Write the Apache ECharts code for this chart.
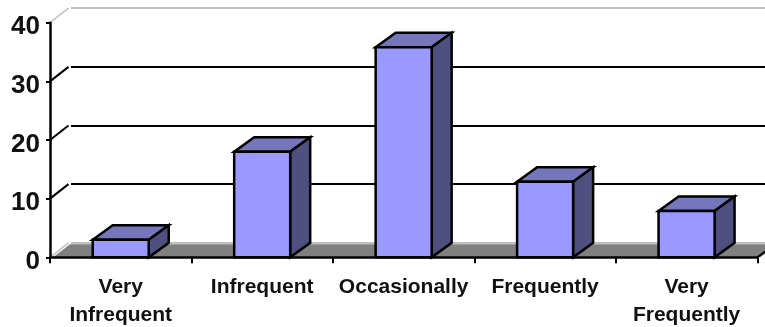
<!DOCTYPE html>
<html><head><meta charset="utf-8">
<style>html,body{margin:0;padding:0;background:#fff}#c{width:765px;height:327px}</style>
<script src="https://cdn.jsdelivr.net/npm/echarts@6/dist/echarts.min.js"></script>
</head><body><div id="c"></div>
<script>
var categories = ['Very\nInfrequent', 'Infrequent', 'Occasionally', 'Frequently', 'Very\nFrequently'];
var values = [3, 18, 35.8, 12.9, 7.9];
var yTicks = [0, 10, 20, 30, 40];
var DX = 20, DY = 14.5, FONT = '"Liberation Sans", Arial, sans-serif';

var chart = echarts.init(document.getElementById('c'), null, {renderer: 'canvas'});
function poly(pts, fill, z) {
  return {type: 'polygon', z2: z || 1, shape: {points: pts},
    style: {fill: fill, stroke: '#000', lineWidth: 2.5, lineJoin: 'miter'}};
}
chart.setOption({
  animation: false,
  backgroundColor: '#fff',
  grid: [
    {left: 50, right: 7.7, top: 22.7, bottom: 69.7, outerBoundsMode: 'none'},
    {left: 71, right: -20, top: 8.2, bottom: 84.2, outerBoundsMode: 'none'}
  ],
  xAxis: [
    {type: 'category', gridIndex: 0, data: categories,
      axisLine: {show: true, onZero: false, lineStyle: {color: '#000', width: 2.5}},
      axisTick: {show: true, alignWithLabel: false, length: 6, lineStyle: {color: '#000', width: 2}},
      axisLabel: {color: '#111', fontFamily: FONT, fontWeight: 'bold', fontSize: 21, lineHeight: 28, margin: 16, interval: 0},
      splitLine: {show: false}, z: 5},
    {type: 'category', gridIndex: 1, data: categories, show: false}
  ],
  yAxis: [
    {type: 'value', gridIndex: 0, min: 0, max: 40, interval: 10,
      axisLine: {show: true, lineStyle: {color: '#000', width: 2.5}},
      axisTick: {show: true, length: 4, lineStyle: {color: '#000', width: 2}},
      axisLabel: {color: '#111', fontFamily: FONT, fontWeight: 'bold', fontSize: 26, margin: 10, verticalAlign: 'top', lineHeight: 9},
      splitLine: {show: false}, z: 5},
    {type: 'value', gridIndex: 1, min: 0, max: 40, interval: 10,
      axisLine: {show: false}, axisTick: {show: false}, axisLabel: {show: false},
      splitLine: {show: true, lineStyle: {width: 2, color: ['#c0c0c0', '#000', '#000', '#000', '#c0c0c0']}}}
  ],
  series: [
    { // floor
      type: 'custom', xAxisIndex: 0, yAxisIndex: 0, z: 1, data: [[0, 0]], silent: true,
      renderItem: function (p, api) {
        var o = api.coord([0, 0]), last = api.coord([categories.length - 1, 0]);
        var band = api.size([1, 0])[0], l = o[0] - band / 2, r = last[0] + band / 2, y = o[1];
        return {type: 'group', children: [
          {type: 'polygon', shape: {points: [[l + 3, y], [l + DX, y - 13], [r + DX, y - 13], [r + 3, y]]},
            style: {fill: '#808080'}},
          {type: 'line', shape: {x1: r, y1: y, x2: r + DX, y2: y - DY}, style: {stroke: '#000', lineWidth: 2}}
        ]};
      }
    },
    { // side wall lines
      type: 'custom', xAxisIndex: 0, yAxisIndex: 0, z: 2, silent: true,
      data: yTicks.map(function (t) { return [0, t]; }),
      renderItem: function (p, api) {
        var t = api.value(1), c = api.coord([0, t]);
        var band = api.size([1, 0])[0], x = c[0] - band / 2, y = c[1];
        var edge = t === 0 || t === 40;
        return {type: 'line', shape: {x1: x, y1: y, x2: x + 18.5, y2: y - DY},
          style: {stroke: edge ? '#c0c0c0' : '#000', lineWidth: edge ? 1.5 : 2}};
      }
    },
    { // bars
      type: 'custom', xAxisIndex: 0, yAxisIndex: 0, z: 3, silent: true,
      encode: {x: 0, y: 1},
      data: values.map(function (v, i) { return [i, v]; }),
      renderItem: function (p, api) {
        var top = api.coord([api.value(0), api.value(1)]), base = api.coord([api.value(0), 0]);
        var w = api.size([1, 0])[0] * 0.396, l = top[0] - w / 2, r = top[0] + w / 2;
        var t = top[1], b = base[1];
        return {type: 'group', children: [
          poly([[l, t], [r, t], [r + DX, t - DY], [l + DX, t - DY]], '#7676BD'),
          poly([[r, t], [r + DX, t - DY], [r + DX, b - DY], [r, b]], '#4F4F80'),
          poly([[l, t], [r, t], [r, b], [l, b]], '#9999FF')
        ]};
      }
    }
  ]
});
</script></body></html>
